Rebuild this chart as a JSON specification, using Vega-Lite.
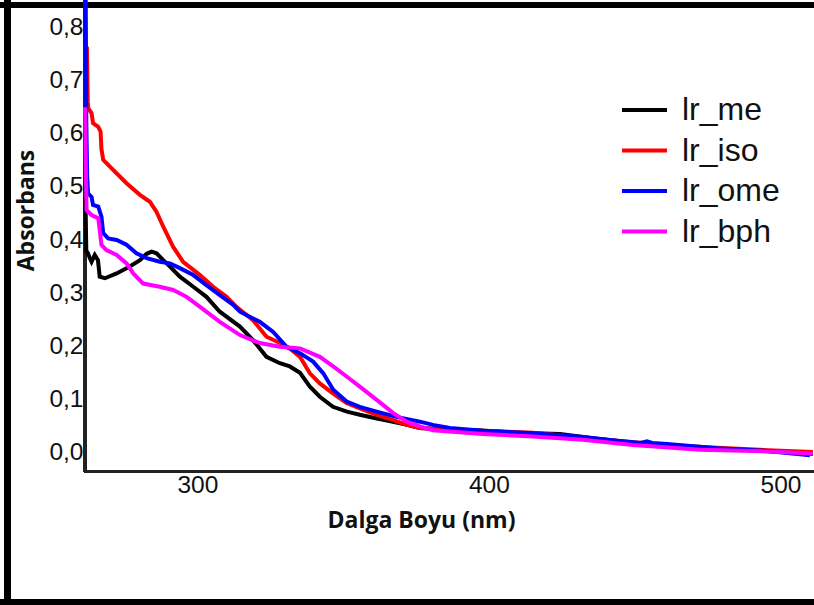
{
  "$schema": "https://vega.github.io/schema/vega-lite/v6.json",
  "width": 814,
  "height": 605,
  "padding": 0,
  "autosize": {"type": "none"},
  "background": "white",
  "config": {"view": {"stroke": null}},
  "data": {"values": [
    {"nm": 261.6, "abs": 0.48, "series": "lr_me"},
    {"nm": 261.9, "abs": 0.38, "series": "lr_me"},
    {"nm": 262.5, "abs": 0.375, "series": "lr_me"},
    {"nm": 263.1, "abs": 0.366, "series": "lr_me"},
    {"nm": 263.7, "abs": 0.359, "series": "lr_me"},
    {"nm": 264.8, "abs": 0.372, "series": "lr_me"},
    {"nm": 265.9, "abs": 0.362, "series": "lr_me"},
    {"nm": 266.5, "abs": 0.331, "series": "lr_me"},
    {"nm": 268.3, "abs": 0.328, "series": "lr_me"},
    {"nm": 272.3, "abs": 0.337, "series": "lr_me"},
    {"nm": 276.8, "abs": 0.35, "series": "lr_me"},
    {"nm": 280.3, "abs": 0.362, "series": "lr_me"},
    {"nm": 282.6, "abs": 0.374, "series": "lr_me"},
    {"nm": 284.3, "abs": 0.378, "series": "lr_me"},
    {"nm": 286.0, "abs": 0.375, "series": "lr_me"},
    {"nm": 288.3, "abs": 0.362, "series": "lr_me"},
    {"nm": 290.6, "abs": 0.35, "series": "lr_me"},
    {"nm": 294.0, "abs": 0.331, "series": "lr_me"},
    {"nm": 298.6, "abs": 0.312, "series": "lr_me"},
    {"nm": 303.1, "abs": 0.293, "series": "lr_me"},
    {"nm": 307.7, "abs": 0.265, "series": "lr_me"},
    {"nm": 314.6, "abs": 0.237, "series": "lr_me"},
    {"nm": 319.0, "abs": 0.212, "series": "lr_me"},
    {"nm": 323.7, "abs": 0.18, "series": "lr_me"},
    {"nm": 328.3, "abs": 0.168, "series": "lr_me"},
    {"nm": 331.7, "abs": 0.162, "series": "lr_me"},
    {"nm": 335.2, "abs": 0.15, "series": "lr_me"},
    {"nm": 338.6, "abs": 0.124, "series": "lr_me"},
    {"nm": 342.0, "abs": 0.105, "series": "lr_me"},
    {"nm": 346.5, "abs": 0.086, "series": "lr_me"},
    {"nm": 351.3, "abs": 0.077, "series": "lr_me"},
    {"nm": 355.7, "abs": 0.071, "series": "lr_me"},
    {"nm": 361.6, "abs": 0.064, "series": "lr_me"},
    {"nm": 367.1, "abs": 0.058, "series": "lr_me"},
    {"nm": 371.9, "abs": 0.052, "series": "lr_me"},
    {"nm": 376.3, "abs": 0.046, "series": "lr_me"},
    {"nm": 386.6, "abs": 0.043, "series": "lr_me"},
    {"nm": 395.9, "abs": 0.042, "series": "lr_me"},
    {"nm": 409.6, "abs": 0.037, "series": "lr_me"},
    {"nm": 424.4, "abs": 0.035, "series": "lr_me"},
    {"nm": 435.7, "abs": 0.027, "series": "lr_me"},
    {"nm": 449.4, "abs": 0.018, "series": "lr_me"},
    {"nm": 472.4, "abs": 0.008, "series": "lr_me"},
    {"nm": 495.4, "abs": 0.003, "series": "lr_me"},
    {"nm": 511.1, "abs": -0.003, "series": "lr_me"},

    {"nm": 262.1, "abs": 0.764, "series": "lr_iso"},
    {"nm": 262.4, "abs": 0.66, "series": "lr_iso"},
    {"nm": 262.6, "abs": 0.648, "series": "lr_iso"},
    {"nm": 263.7, "abs": 0.639, "series": "lr_iso"},
    {"nm": 264.2, "abs": 0.62, "series": "lr_iso"},
    {"nm": 266.0, "abs": 0.613, "series": "lr_iso"},
    {"nm": 266.8, "abs": 0.604, "series": "lr_iso"},
    {"nm": 267.1, "abs": 0.571, "series": "lr_iso"},
    {"nm": 267.7, "abs": 0.551, "series": "lr_iso"},
    {"nm": 271.1, "abs": 0.532, "series": "lr_iso"},
    {"nm": 275.7, "abs": 0.507, "series": "lr_iso"},
    {"nm": 280.3, "abs": 0.485, "series": "lr_iso"},
    {"nm": 283.7, "abs": 0.472, "series": "lr_iso"},
    {"nm": 286.0, "abs": 0.453, "series": "lr_iso"},
    {"nm": 288.3, "abs": 0.425, "series": "lr_iso"},
    {"nm": 291.7, "abs": 0.387, "series": "lr_iso"},
    {"nm": 295.1, "abs": 0.359, "series": "lr_iso"},
    {"nm": 300.9, "abs": 0.334, "series": "lr_iso"},
    {"nm": 305.4, "abs": 0.312, "series": "lr_iso"},
    {"nm": 310.0, "abs": 0.293, "series": "lr_iso"},
    {"nm": 313.4, "abs": 0.274, "series": "lr_iso"},
    {"nm": 319.1, "abs": 0.249, "series": "lr_iso"},
    {"nm": 323.7, "abs": 0.218, "series": "lr_iso"},
    {"nm": 328.3, "abs": 0.206, "series": "lr_iso"},
    {"nm": 331.7, "abs": 0.196, "series": "lr_iso"},
    {"nm": 335.2, "abs": 0.18, "series": "lr_iso"},
    {"nm": 338.6, "abs": 0.149, "series": "lr_iso"},
    {"nm": 342.0, "abs": 0.13, "series": "lr_iso"},
    {"nm": 346.6, "abs": 0.111, "series": "lr_iso"},
    {"nm": 351.2, "abs": 0.093, "series": "lr_iso"},
    {"nm": 355.7, "abs": 0.083, "series": "lr_iso"},
    {"nm": 361.5, "abs": 0.071, "series": "lr_iso"},
    {"nm": 367.2, "abs": 0.061, "series": "lr_iso"},
    {"nm": 371.8, "abs": 0.052, "series": "lr_iso"},
    {"nm": 376.3, "abs": 0.046, "series": "lr_iso"},
    {"nm": 386.6, "abs": 0.043, "series": "lr_iso"},
    {"nm": 397.9, "abs": 0.041, "series": "lr_iso"},
    {"nm": 415.1, "abs": 0.037, "series": "lr_iso"},
    {"nm": 426.8, "abs": 0.031, "series": "lr_iso"},
    {"nm": 443.9, "abs": 0.022, "series": "lr_iso"},
    {"nm": 461.1, "abs": 0.014, "series": "lr_iso"},
    {"nm": 478.2, "abs": 0.009, "series": "lr_iso"},
    {"nm": 493.0, "abs": 0.005, "series": "lr_iso"},
    {"nm": 511.1, "abs": 0.001, "series": "lr_iso"},

    {"nm": 261.7, "abs": 0.86, "series": "lr_ome"},
    {"nm": 261.9, "abs": 0.62, "series": "lr_ome"},
    {"nm": 262.2, "abs": 0.52, "series": "lr_ome"},
    {"nm": 262.5, "abs": 0.488, "series": "lr_ome"},
    {"nm": 263.7, "abs": 0.481, "series": "lr_ome"},
    {"nm": 264.2, "abs": 0.466, "series": "lr_ome"},
    {"nm": 266.0, "abs": 0.463, "series": "lr_ome"},
    {"nm": 267.1, "abs": 0.444, "series": "lr_ome"},
    {"nm": 267.7, "abs": 0.413, "series": "lr_ome"},
    {"nm": 269.4, "abs": 0.403, "series": "lr_ome"},
    {"nm": 272.3, "abs": 0.4, "series": "lr_ome"},
    {"nm": 275.7, "abs": 0.391, "series": "lr_ome"},
    {"nm": 279.1, "abs": 0.375, "series": "lr_ome"},
    {"nm": 282.6, "abs": 0.366, "series": "lr_ome"},
    {"nm": 287.1, "abs": 0.359, "series": "lr_ome"},
    {"nm": 290.6, "abs": 0.356, "series": "lr_ome"},
    {"nm": 294.0, "abs": 0.347, "series": "lr_ome"},
    {"nm": 298.6, "abs": 0.334, "series": "lr_ome"},
    {"nm": 303.1, "abs": 0.315, "series": "lr_ome"},
    {"nm": 307.7, "abs": 0.296, "series": "lr_ome"},
    {"nm": 312.3, "abs": 0.278, "series": "lr_ome"},
    {"nm": 314.6, "abs": 0.265, "series": "lr_ome"},
    {"nm": 321.4, "abs": 0.246, "series": "lr_ome"},
    {"nm": 326.0, "abs": 0.227, "series": "lr_ome"},
    {"nm": 330.6, "abs": 0.199, "series": "lr_ome"},
    {"nm": 335.2, "abs": 0.187, "series": "lr_ome"},
    {"nm": 339.7, "abs": 0.171, "series": "lr_ome"},
    {"nm": 343.2, "abs": 0.149, "series": "lr_ome"},
    {"nm": 346.6, "abs": 0.118, "series": "lr_ome"},
    {"nm": 351.2, "abs": 0.096, "series": "lr_ome"},
    {"nm": 355.7, "abs": 0.086, "series": "lr_ome"},
    {"nm": 361.5, "abs": 0.077, "series": "lr_ome"},
    {"nm": 368.3, "abs": 0.067, "series": "lr_ome"},
    {"nm": 376.3, "abs": 0.058, "series": "lr_ome"},
    {"nm": 380.8, "abs": 0.052, "series": "lr_ome"},
    {"nm": 386.6, "abs": 0.046, "series": "lr_ome"},
    {"nm": 397.9, "abs": 0.041, "series": "lr_ome"},
    {"nm": 415.1, "abs": 0.036, "series": "lr_ome"},
    {"nm": 432.2, "abs": 0.029, "series": "lr_ome"},
    {"nm": 443.9, "abs": 0.022, "series": "lr_ome"},
    {"nm": 452.0, "abs": 0.018, "series": "lr_ome"},
    {"nm": 454.2, "abs": 0.021, "series": "lr_ome"},
    {"nm": 456.0, "abs": 0.018, "series": "lr_ome"},
    {"nm": 461.1, "abs": 0.016, "series": "lr_ome"},
    {"nm": 478.2, "abs": 0.008, "series": "lr_ome"},
    {"nm": 495.4, "abs": 0.003, "series": "lr_ome"},
    {"nm": 510.1, "abs": -0.005, "series": "lr_ome"},

    {"nm": 261.5, "abs": 0.65, "series": "lr_bph"},
    {"nm": 261.8, "abs": 0.52, "series": "lr_bph"},
    {"nm": 262.0, "abs": 0.456, "series": "lr_bph"},
    {"nm": 263.7, "abs": 0.447, "series": "lr_bph"},
    {"nm": 264.8, "abs": 0.444, "series": "lr_bph"},
    {"nm": 266.0, "abs": 0.441, "series": "lr_bph"},
    {"nm": 266.5, "abs": 0.419, "series": "lr_bph"},
    {"nm": 267.1, "abs": 0.391, "series": "lr_bph"},
    {"nm": 268.8, "abs": 0.381, "series": "lr_bph"},
    {"nm": 272.3, "abs": 0.372, "series": "lr_bph"},
    {"nm": 275.7, "abs": 0.356, "series": "lr_bph"},
    {"nm": 278.0, "abs": 0.337, "series": "lr_bph"},
    {"nm": 281.4, "abs": 0.318, "series": "lr_bph"},
    {"nm": 287.1, "abs": 0.312, "series": "lr_bph"},
    {"nm": 291.7, "abs": 0.306, "series": "lr_bph"},
    {"nm": 296.3, "abs": 0.293, "series": "lr_bph"},
    {"nm": 300.9, "abs": 0.274, "series": "lr_bph"},
    {"nm": 307.7, "abs": 0.246, "series": "lr_bph"},
    {"nm": 314.6, "abs": 0.221, "series": "lr_bph"},
    {"nm": 321.4, "abs": 0.206, "series": "lr_bph"},
    {"nm": 328.3, "abs": 0.199, "series": "lr_bph"},
    {"nm": 335.2, "abs": 0.196, "series": "lr_bph"},
    {"nm": 342.0, "abs": 0.18, "series": "lr_bph"},
    {"nm": 346.6, "abs": 0.162, "series": "lr_bph"},
    {"nm": 351.2, "abs": 0.143, "series": "lr_bph"},
    {"nm": 355.7, "abs": 0.124, "series": "lr_bph"},
    {"nm": 361.5, "abs": 0.099, "series": "lr_bph"},
    {"nm": 367.2, "abs": 0.074, "series": "lr_bph"},
    {"nm": 371.8, "abs": 0.058, "series": "lr_bph"},
    {"nm": 376.3, "abs": 0.049, "series": "lr_bph"},
    {"nm": 380.8, "abs": 0.042, "series": "lr_bph"},
    {"nm": 397.9, "abs": 0.035, "series": "lr_bph"},
    {"nm": 415.1, "abs": 0.03, "series": "lr_bph"},
    {"nm": 432.2, "abs": 0.024, "series": "lr_bph"},
    {"nm": 449.4, "abs": 0.014, "series": "lr_bph"},
    {"nm": 472.4, "abs": 0.005, "series": "lr_bph"},
    {"nm": 495.4, "abs": 0.002, "series": "lr_bph"},
    {"nm": 511.1, "abs": -0.002, "series": "lr_bph"}
  ]},
  "layer": [
    {
      "mark": {"type": "rule", "color": "black", "strokeWidth": 6},
      "encoding": {"y": {"datum": 0.8424, "type": "quantitative"}}
    },
    {
      "mark": {"type": "rule", "color": "black", "strokeWidth": 6},
      "encoding": {"y": {"datum": -0.2814, "type": "quantitative"}}
    },
    {
      "mark": {"type": "rule", "color": "black", "strokeWidth": 6},
      "encoding": {"x": {"datum": 235.0, "type": "quantitative"}}
    },
    {
      "mark": {"type": "rule", "color": "#222", "strokeWidth": 2.5},
      "encoding": {
        "x": {"datum": 261.4, "type": "quantitative"},
        "y": {"datum": -0.036, "type": "quantitative"},
        "y2": {"datum": 0.86}
      }
    },
    {
      "mark": {"type": "rule", "color": "#222", "strokeWidth": 2.5},
      "encoding": {
        "y": {"datum": -0.036, "type": "quantitative"},
        "x": {"datum": 261.4, "type": "quantitative"},
        "x2": {"datum": 511.5}
      }
    },
    {
      "mark": {"type": "line", "strokeWidth": 4, "clip": true, "interpolate": "linear"},
      "encoding": {
        "x": {
          "field": "nm", "type": "quantitative",
          "scale": {"domain": [232.3, 511.5], "nice": false, "zero": false},
          "axis": {
            "title": "Dalga Boyu (nm)", "values": [300, 400, 500], "grid": false, "domain": false, "ticks": false,
            "offset": -133.3, "labelPadding": 2, "labelFont": "Liberation Sans", "labelFontSize": 24.5, "labelColor": "#111",
            "titleFont": "Open Sans", "titleFontSize": 23, "titleFontWeight": "bold", "titleColor": "#111",
            "titleX": 421, "titleY": 49, "titleBaseline": "middle", "titleAlign": "center"
          }
        },
        "y": {
          "field": "abs", "type": "quantitative",
          "scale": {"domain": [-0.2871, 0.8518], "nice": false, "zero": false},
          "axis": {
            "title": "Absorbans", "values": [0, 0.1, 0.2, 0.3, 0.4, 0.5, 0.6, 0.7, 0.8], "grid": false, "domain": false, "ticks": false,
            "offset": -85, "labelPadding": 2, "labelFont": "Liberation Sans", "labelFontSize": 24.5, "labelColor": "#111",
            "labelExpr": "replace(format(datum.value, '.1f'), '.', ',')",
            "titleFont": "Open Sans", "titleFontSize": 23, "titleFontWeight": "bold", "titleColor": "#111",
            "titleX": -59, "titleY": 210, "titleAngle": -90, "titleBaseline": "middle", "titleAlign": "center"
          }
        },
        "color": {
          "field": "series", "type": "nominal",
          "scale": {"domain": ["lr_me", "lr_iso", "lr_ome", "lr_bph"], "range": ["#000000", "#ff0000", "#0000ff", "#ff00ff"]},
          "legend": {
            "orient": "none", "legendX": 620, "legendY": 92, "title": null, "padding": 0,
            "symbolType": "stroke", "symbolSize": 2025, "symbolStrokeWidth": 4,
            "clipHeight": 36, "rowPadding": 4.5, "labelOffset": 13,
            "labelFont": "Liberation Sans", "labelFontSize": 32, "labelColor": "#111"
          }
        }
      }
    }
  ]
}
